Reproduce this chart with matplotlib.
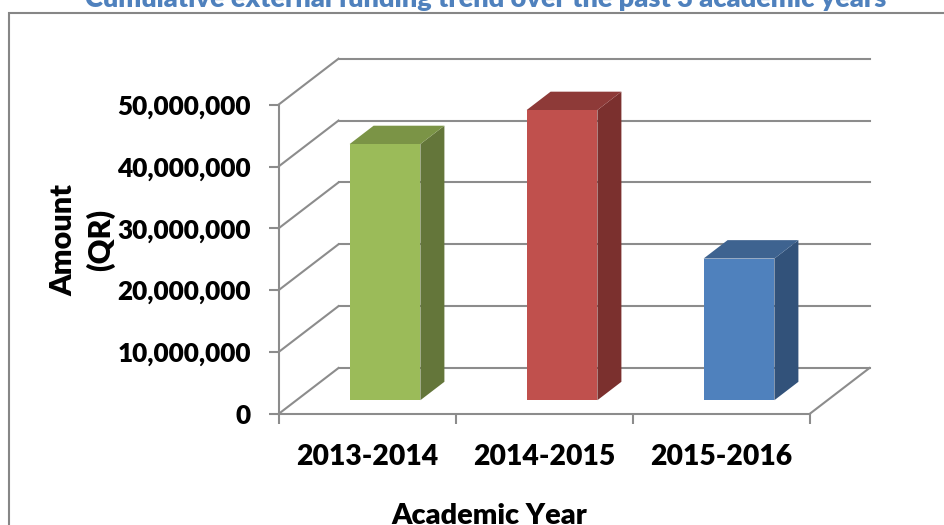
import matplotlib
matplotlib.use('Agg')
import matplotlib.pyplot as plt
from matplotlib.patches import Rectangle

plt.rcParams['font.family'] = ['Lato', 'DejaVu Sans']

# Data
years = ['2013-2014', '2014-2015', '2015-2016']
amounts = [41400000, 46900000, 22900000]
y_ticks = [0, 10000000, 20000000, 30000000, 40000000, 50000000]
front_colors = ['#9BBB59', '#C0504D', '#4F81BD']
top_colors = ['#7B9446', '#8E3A38', '#3E6390']
side_colors = ['#64763A', '#7B302E', '#32527A']

GRID = '#8C8C8C'
WEIGHT = 'heavy'
W, H = 944, 525

fig = plt.figure(figsize=(W / 100, H / 100), dpi=100, facecolor='white')

# Axes covers the front plane of the fake 3D box
left, right, top, bottom = 278.5, 809.5, 104.7, 414
ax = fig.add_axes([left / W, 1 - bottom / H, (right - left) / W, (bottom - top) / H])
ax.set_xlim(0, len(years))
ax.set_ylim(0, 50000000)
ax.patch.set_visible(False)

# Depth of the box in data units
depth_x = 60 / ((right - left) / len(years))
depth_y = 46 / ((bottom - top) / 50000000)

# Walls
for t in y_ticks:
    ax.plot([0, depth_x], [t, t + depth_y], color=GRID, lw=1.5, clip_on=False, zorder=1)
    ax.plot([depth_x, len(years) + depth_x], [t + depth_y, t + depth_y],
            color=GRID, lw=1.5, clip_on=False, zorder=1)
ax.plot([len(years), len(years) + depth_x], [0, depth_y], color=GRID, lw=1.5, clip_on=False, zorder=1)

# Bars sit between 30% and 70% of the depth
bar_w = 0.4
for i, val in enumerate(amounts):
    x0 = i + 0.5 - bar_w / 2 + 0.3 * depth_x
    x1 = x0 + bar_w
    y0 = 0.3 * depth_y
    y1 = y0 + val
    dx = 0.4 * depth_x
    dy = 0.4 * depth_y
    ax.fill([x1, x1 + dx, x1 + dx, x1], [y0, y0 + dy, y1 + dy, y1],
            color=side_colors[i], lw=0, clip_on=False, zorder=3)
    ax.fill([x0, x1, x1 + dx, x0 + dx], [y1, y1, y1 + dy, y1 + dy],
            color=top_colors[i], lw=0, clip_on=False, zorder=3)
    ax.bar(x0, val, bar_w, bottom=y0, align='edge', color=front_colors[i],
           clip_on=False, zorder=4)

# Axes
for s in ['top', 'right']:
    ax.spines[s].set_visible(False)
for s in ['left', 'bottom']:
    ax.spines[s].set_color(GRID)
    ax.spines[s].set_linewidth(1.5)
ax.set_yticks(y_ticks)
ax.set_yticklabels([f'{t:,}' for t in y_ticks], fontsize=18.8, fontweight=WEIGHT)
ax.set_xticks(range(len(years) + 1))
ax.set_xticklabels([])
ax.tick_params(axis='y', length=7, width=1.5, color=GRID, pad=13)
ax.tick_params(axis='x', length=7, width=1.5, color=GRID)
for i, name in enumerate(years):
    ax.annotate(name, (i + 0.5, 0), xytext=(0, -43), textcoords='offset pixels',
                ha='center', va='center', fontsize=20.3, fontweight=WEIGHT)

# Labels and title, positioned in figure pixels
fig.text(489 / W, 1 - 524 / H, 'Academic Year', ha='center', va='baseline', fontsize=20.8, fontweight=WEIGHT)
fig.text(82 / W, 1 - 240 / H, 'Amount\n(QR)', ha='center', va='center', rotation=90,
         fontsize=22, fontweight=WEIGHT, linespacing=1.37)
fig.text(486 / W, 1 - 7 / H, 'Cumulative external funding trend over the past 3 academic years',
         ha='center', va='baseline', fontsize=19.5, fontweight=WEIGHT, color='#4F81BD')

# Chart frame runs off the image on the right and bottom
fig.add_artist(Rectangle((8.5 / W, -0.1), 1.1, 1.1 - 13 / H, transform=fig.transFigure,
                         fill=False, edgecolor='#868686', lw=1.5))

plt.savefig('out.png', dpi=100, facecolor='white')
plt.close()
